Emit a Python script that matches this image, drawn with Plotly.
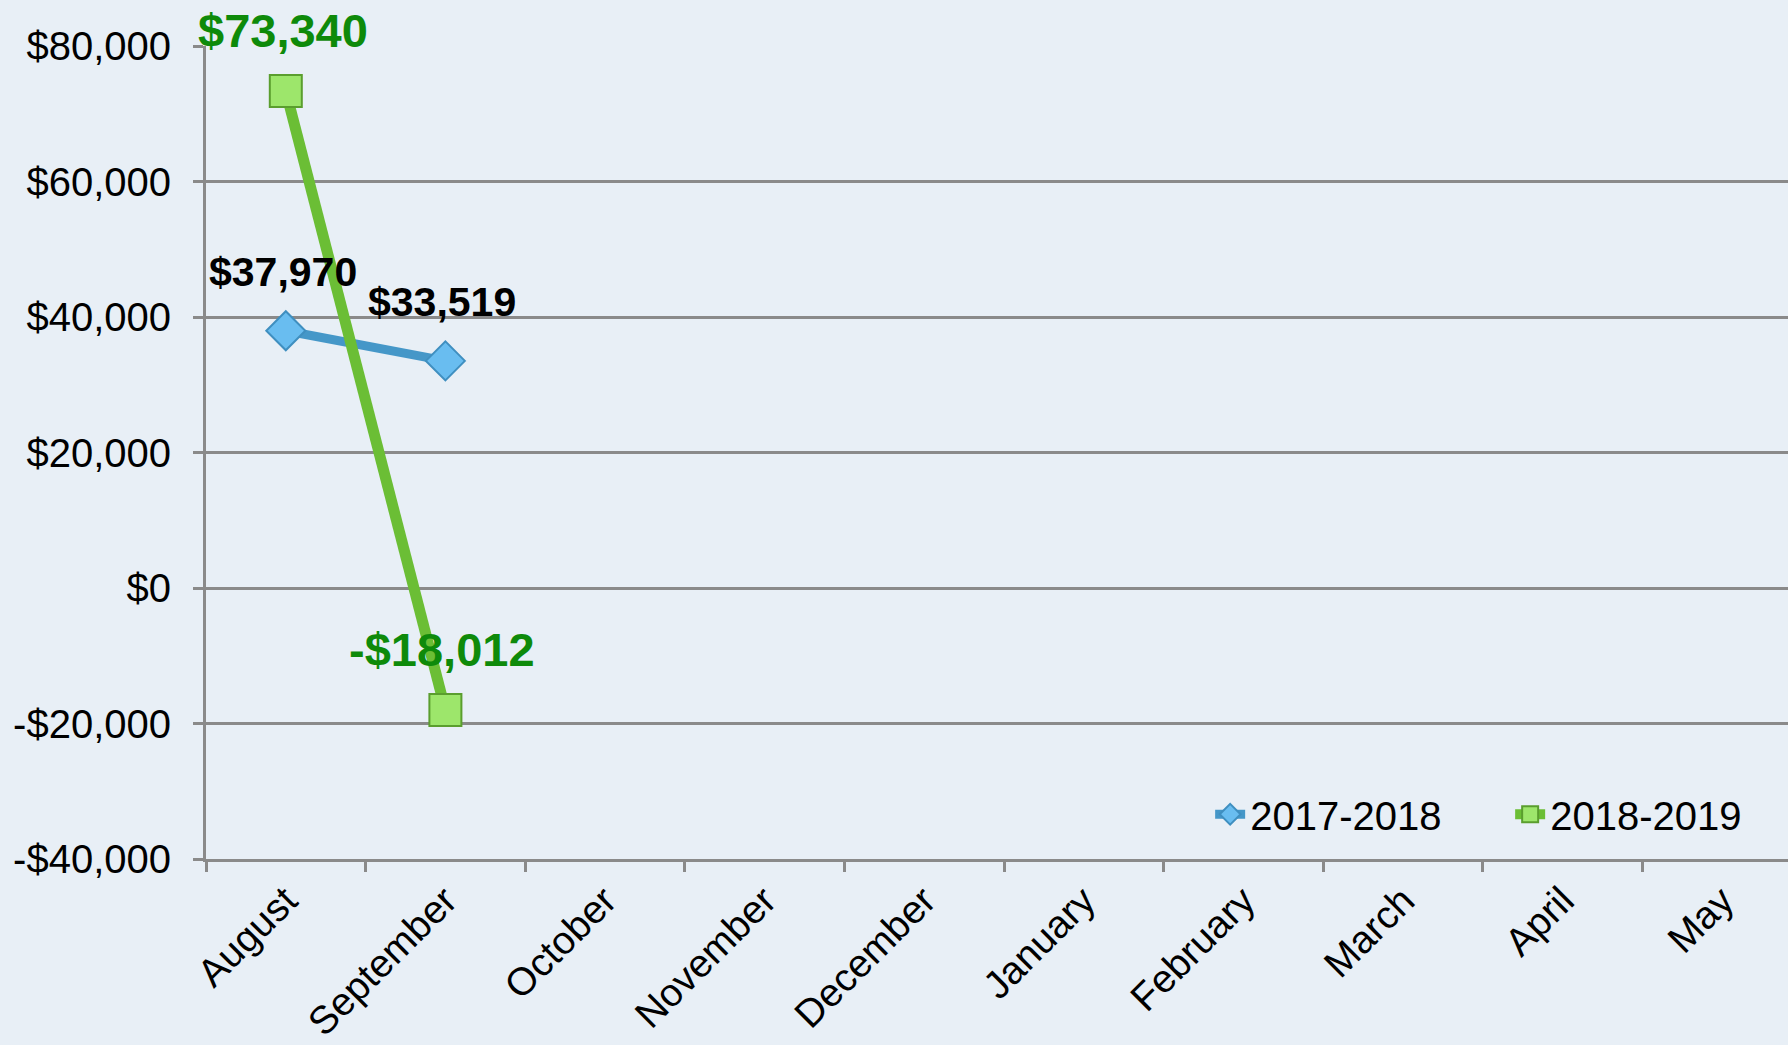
import plotly.graph_objects as go

months = ["August", "September", "October", "November", "December",
          "January", "February", "March", "April", "May"]
s1_name = "2017-2018"
s1_vals = [37970, 33519, None, None, None, None, None, None, None, None]
s2_name = "2018-2019"
s2_vals = [73340, -18012, None, None, None, None, None, None, None, None]
y_ticks = [-40000, -20000, 0, 20000, 40000, 60000, 80000]
y_tick_text = ["-$40,000", "-$20,000", "$0", "$20,000", "$40,000", "$60,000", "$80,000"]


def fmt(v):
    return ("-$" if v < 0 else "$") + f"{abs(v):,}"


W, H = 1788, 1045
L, T, B = 206, 46, 186
FONT = "Liberation Sans, Arial, sans-serif"
GRID = "#8a8a8a"
BG = "#E8EFF6"

fig = go.Figure()
fig.add_trace(go.Scatter(
    x=months, y=s1_vals, name=s1_name, mode="lines+markers",
    line=dict(color="#4597C8", width=9),
    marker=dict(symbol="diamond", size=30, color="#69BDF0",
                line=dict(color="#3F8FC0", width=2)),
    cliponaxis=False,
))
fig.add_trace(go.Scatter(
    x=months, y=s2_vals, name=s2_name, mode="lines+markers",
    line=dict(color="#6BBE35", width=11),
    marker=dict(symbol="square", size=32, color="#9DE66B",
                line=dict(color="#5A9E2E", width=2)),
    cliponaxis=False,
))

annotations = []
for vals, color, size, shift in [(s1_vals, "black", 41, 34), (s2_vals, "#0E8A0A", 47, 32)]:
    for m, v in zip(months, vals):
        if v is None:
            continue
        annotations.append(dict(
            x=m, y=v, xref="x", yref="y", text=fmt(v), showarrow=False,
            yanchor="bottom", xanchor="center", yshift=shift, xshift=-3,
            font=dict(family=FONT, size=size, color=color, weight="bold"),
        ))

plot_w = W - L
cat_px = 159.6
x_hi = -0.5 + plot_w / cat_px

fig.update_layout(
    width=W, height=H,
    margin=dict(l=L, r=0, t=T, b=B, pad=0, autoexpand=False),
    paper_bgcolor=BG, plot_bgcolor=BG,
    font=dict(family=FONT, size=40, color="black"),
    showlegend=True,
    annotations=annotations,
    legend=dict(orientation="h", x=1.014, xanchor="right", y=0.055, yanchor="middle",
                bgcolor="rgba(0,0,0,0)", font=dict(size=40, family=FONT),
                itemwidth=30, entrywidth=255, entrywidthmode="pixels",
                traceorder="normal"),
    xaxis=dict(
        type="category", categoryorder="array", categoryarray=months,
        range=[-0.5, x_hi], tickson="boundaries", automargin=False,
        showgrid=False, showline=True, linecolor=GRID, linewidth=3,
        ticks="outside", ticklen=10, tickwidth=3, tickcolor=GRID,
        tickangle=-45, tickfont=dict(size=39), ticklabelstandoff=0,
        zeroline=False,
    ),
    yaxis=dict(
        range=[-40000, 80000], tickvals=y_ticks, ticktext=y_tick_text,
        showgrid=True, gridcolor=GRID, gridwidth=3, automargin=False,
        showline=True, linecolor=GRID, linewidth=3,
        ticks="outside", ticklen=10, tickwidth=3, tickcolor=GRID,
        tickfont=dict(size=40), ticklabelstandoff=14, zeroline=False,
    ),
)

fig.write_html(
    "out.html",
    config={"displayModeBar": False},
    post_script="document.body.style.margin='0';document.body.style.background='%s';"
                "document.body.style.overflow='hidden';" % BG,
)
